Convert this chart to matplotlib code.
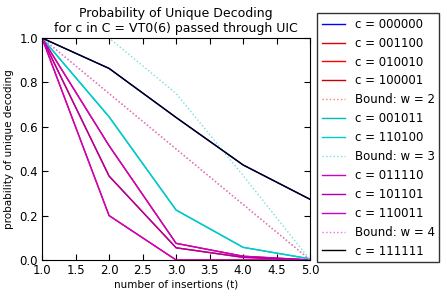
import matplotlib
matplotlib.use("Agg")
import matplotlib.pyplot as plt

t = [1, 2, 3, 4, 5]

labels = ["c = 000000", "c = 001100", "c = 010010", "c = 100001", "Bound: w = 2",
          "c = 001011", "c = 110100", "Bound: w = 3",
          "c = 011110", "c = 101101", "c = 110011", "Bound: w = 4", "c = 111111"]

p_000000 = [1.0, 0.863, 0.642, 0.428, 0.273]
p_001100 = [1.0, 0.20, 0.0, 0.0, 0.0]
p_010010 = [1.0, 0.378, 0.055, 0.012, 0.0]
p_100001 = [1.0, 0.515, 0.075, 0.017, 0.0]
bound_w2 = [1.0, 0.75, 0.5, 0.25, 0.0]
p_001011 = [1.0, 0.645, 0.225, 0.057, 0.005]
p_110100 = [1.0, 0.645, 0.225, 0.057, 0.005]
bound_w3 = [1.0, 1.0, 0.75, 0.38, 0.0]
p_011110 = [1.0, 0.515, 0.075, 0.017, 0.0]
p_101101 = [1.0, 0.378, 0.055, 0.012, 0.0]
p_110011 = [1.0, 0.20, 0.0, 0.0, 0.0]
bound_w4 = [1.0, 0.75, 0.5, 0.25, 0.0]
p_111111 = [1.0, 0.863, 0.642, 0.428, 0.273]

series = [p_000000, p_001100, p_010010, p_100001, bound_w2,
          p_001011, p_110100, bound_w3,
          p_011110, p_101101, p_110011, bound_w4, p_111111]
colors = ["#0000ff", "#dd0000", "#ff0000", "#cc0000", "#ff7777",
          "#00bbbb", "#00cccc", "#77dddd",
          "#cc00cc", "#aa00aa", "#cc00cc", "#dd77dd", "#000000"]
styles = ["-", "-", "-", "-", ":", "-", "-", ":", "-", "-", "-", ":", "-"]

fig = plt.figure(figsize=(4.47, 2.96), dpi=100)
ax = fig.add_axes([0.094, 0.1216, 0.6, 0.75])
for y, c, ls, lab in zip(series, colors, styles, labels):
    ax.plot(t, y, color=c, linestyle=ls, linewidth=1.0, label=lab)

ax.set_xlim(1.0, 5.0)
ax.set_ylim(0.0, 1.0)
ax.set_xticks([1.0, 1.5, 2.0, 2.5, 3.0, 3.5, 4.0, 4.5, 5.0])
ax.set_yticks([0.0, 0.2, 0.4, 0.6, 0.8, 1.0])
ax.tick_params(direction="in", top=True, right=True, labelsize=8.5, length=4, pad=3)
ax.set_xlabel("number of insertions (t)", fontsize=7.5, labelpad=2)
ax.set_ylabel("probability of unique decoding", fontsize=7.5)
ax.set_title("Probability of Unique Decoding\nfor c in C = VT0(6) passed through UIC", fontsize=9, pad=4)

leg = ax.legend(loc="upper left", bbox_to_anchor=(0.709, 0.956), bbox_transform=fig.transFigure,
                fontsize=8.5, frameon=True, fancybox=False, handlelength=2.0,
                labelspacing=0.5, borderaxespad=0.0)
leg.get_frame().set_edgecolor("black")
leg.get_frame().set_linewidth(1.0)

fig.savefig("out.png", dpi=100)
